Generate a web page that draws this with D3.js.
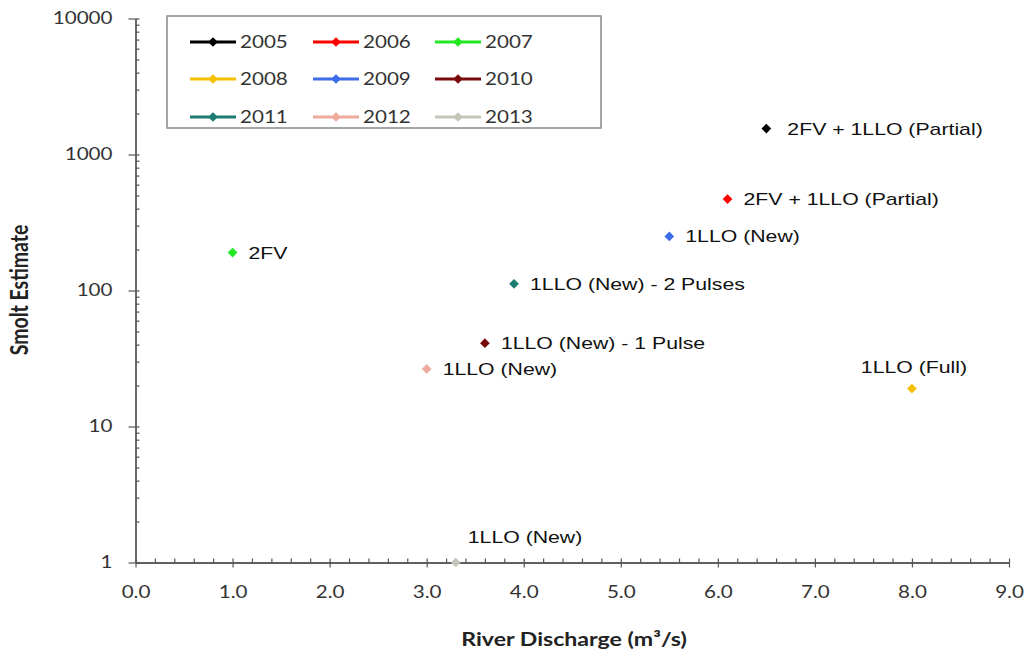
<!DOCTYPE html>
<html>
<head>
<meta charset="utf-8">
<script src="https://cdn.jsdelivr.net/npm/d3@7"></script>
<style>
  html, body { margin: 0; padding: 0; background: #fff; }
  svg { display: block; }
</style>
</head>
<body>
<svg id="chart" width="1028" height="653"></svg>
<script>
// Smolt estimate vs river discharge, one point per year
const years     = ["2005", "2006", "2007", "2008", "2009", "2010", "2011", "2012", "2013"];
const discharge = [6.5, 6.1, 1.0, 8.0, 5.5, 3.6, 3.9, 3.0, 3.3];
const smolts    = [1550, 470, 190, 19, 250, 41, 112, 26.5, 1];
const notes     = ["2FV + 1LLO (Partial)", "2FV + 1LLO (Partial)", "2FV", "1LLO (Full)",
                   "1LLO (New)", "1LLO (New) - 1 Pulse", "1LLO (New) - 2 Pulses", "1LLO (New)", "1LLO (New)"];
const colors    = ["#000000", "#ff0000", "#22e822", "#f5c000", "#3d6ee8", "#7a0a0a", "#1c7c72", "#eeaa9c", "#c4c4b8"];

const xTicks = [0, 1, 2, 3, 4, 5, 6, 7, 8, 9];
const yTicks = [1, 10, 100, 1000, 10000];

const svg = d3.select("#chart");
const margin = { left: 135.5, right: 1009, top: 18.5, bottom: 562.5 };

const x = d3.scaleLinear().domain([0, 9]).range([margin.left, margin.right]);
const y = d3.scaleLog().domain([1, 10000]).range([margin.bottom, margin.top]);

const tickFont = "Lato, 'Open Sans', sans-serif";
const labelFont = "'Liberation Sans', Arial, sans-serif";
const WIDE = 1.25; // glyphs are drawn a little wider than the font's natural width

// widen a text element horizontally about its own x anchor
function widen(sel) {
  sel.each(function () {
    const ax = +this.getAttribute("x") || 0;
    this.setAttribute("transform", `translate(${ax},0) scale(${WIDE},1) translate(${-ax},0)`);
  });
}

// minor tick positions
const xMinor = d3.range(0, 9.0001, 0.2).map(v => +v.toFixed(1));
const yMinor = [];
for (let d = 1; d < 10000; d *= 10) for (let k = 1; k <= 9; k++) yMinor.push(d * k);
yMinor.push(10000);

// ---- y axis ----
const yAxisL = svg.append("g").attr("transform", `translate(${margin.left},0)`)
  .call(d3.axisLeft(y).tickValues(yTicks).tickFormat(d3.format("d")).tickSizeInner(7).tickSizeOuter(0).tickPadding(16));
const yAxisR = svg.append("g").attr("transform", `translate(${margin.left},0)`)
  .call(d3.axisRight(y).tickValues(yMinor).tickFormat("").tickSizeInner(4).tickSizeOuter(0));

// ---- x axis ----
const xAxisB = svg.append("g").attr("transform", `translate(0,${margin.bottom})`)
  .call(d3.axisBottom(x).tickValues(xTicks).tickFormat(d3.format(".1f")).tickSizeInner(5).tickSizeOuter(0).tickPadding(19));
const xAxisT = svg.append("g").attr("transform", `translate(0,${margin.bottom})`)
  .call(d3.axisTop(x).tickValues(xMinor).tickFormat("").tickSizeInner(4).tickSizeOuter(0));

[yAxisL, yAxisR, xAxisB, xAxisT].forEach(g => {
  g.select(".domain").attr("stroke", "#555").attr("stroke-width", 1.3);
  g.selectAll(".tick line").attr("stroke", "#555").attr("stroke-width", 1.2);
  g.selectAll("text").attr("font-family", tickFont).attr("font-size", 16.5).attr("fill", "#333")
    .call(widen);
});

// axis titles
svg.append("text")
  .attr("transform", `translate(19,290) scale(${WIDE},1) rotate(-90)`)
  .attr("text-anchor", "middle").attr("dy", "0.35em")
  .attr("font-family", tickFont).attr("font-weight", "bold").attr("font-size", 19.5)
  .attr("fill", "#222")
  .text("Smolt Estimate");

svg.append("text")
  .attr("x", 574).attr("y", 646)
  .attr("text-anchor", "middle")
  .attr("font-family", tickFont).attr("font-weight", "bold").attr("font-size", 18.5)
  .attr("fill", "#222")
  .text("River Discharge (m³/s)")
  .call(widen);

// ---- points ----
const diamond = d3.symbol().type(d3.symbolDiamond2).size(60);
const pts = years.map((yr, i) => ({ yr, x: discharge[i], y: smolts[i], note: notes[i], color: colors[i] }));

svg.append("g").selectAll("path").data(pts).join("path")
  .attr("transform", d => `translate(${x(d.x)},${y(d.y)})`)
  .attr("d", diamond)
  .attr("fill", d => d.color);

// label placement: most labels sit right of the point, a few above it
const labelPlace = {
  "2005": { dx: 21, dy: 6, anchor: "start" },
  "2008": { dx: 2, dy: -16, anchor: "middle" },
  "2013": { dx: 12, dy: -19, anchor: "start" }
};
svg.append("g").selectAll("text").data(pts).join("text")
  .attr("x", d => x(d.x) + (labelPlace[d.yr] ? labelPlace[d.yr].dx : 16))
  .attr("y", d => y(d.y) + (labelPlace[d.yr] ? labelPlace[d.yr].dy : 6))
  .attr("text-anchor", d => labelPlace[d.yr] ? labelPlace[d.yr].anchor : "start")
  .attr("font-family", labelFont)
  .attr("font-size", 17)
  .attr("fill", "#111")
  .text(d => d.note)
  .call(widen);

// ---- legend ----
const legend = svg.append("g");
legend.append("rect")
  .attr("x", 167).attr("y", 16).attr("width", 434).attr("height", 112)
  .attr("fill", "#fff").attr("stroke", "#888").attr("stroke-width", 1.5);

const colX = [190, 313, 435];
const rowY = [42, 79, 117];
const item = legend.selectAll("g.item").data(pts).join("g")
  .attr("class", "item")
  .attr("transform", (d, i) => `translate(${colX[i % 3]},${rowY[Math.floor(i / 3)]})`);
item.append("line")
  .attr("x1", 0).attr("x2", 46).attr("y1", 0).attr("y2", 0)
  .attr("stroke", d => d.color).attr("stroke-width", 3);
item.append("path")
  .attr("transform", "translate(23,0)")
  .attr("d", diamond)
  .attr("fill", d => d.color);
item.append("text")
  .attr("x", 50).attr("y", 0).attr("dy", "0.36em")
  .attr("font-family", tickFont).attr("font-size", 16.5)
  .attr("fill", "#333")
  .text(d => d.yr)
  .call(widen);
</script>
</body>
</html>
